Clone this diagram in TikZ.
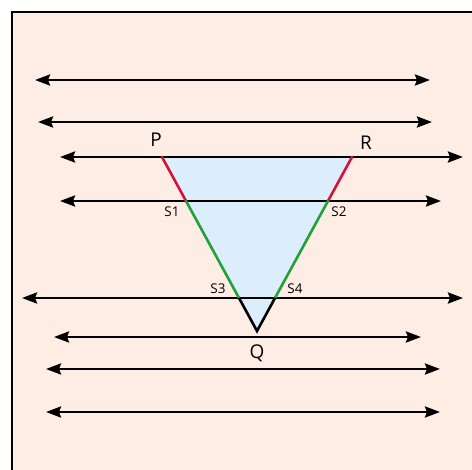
\documentclass[tikz,border=0pt]{standalone}
\usepackage{fontspec}
\setmainfont{Open Sans}
\usetikzlibrary{arrows.meta}
\definecolor{bgpink}{HTML}{FDEDE5}
\definecolor{triblue}{HTML}{DCEEFC}
\definecolor{segred}{HTML}{D2143A}
\definecolor{seggreen}{HTML}{22A03A}
\tikzset{
  dbl/.style={line width=2.6bp, {Stealth[length=15bp,width=11bp,inset=2bp]}-{Stealth[length=15bp,width=11bp,inset=2bp]}},
  big/.style={font=\fontsize{19}{19}\selectfont, inner sep=0},
  small/.style={font=\fontsize{13.5}{14}\selectfont, inner sep=0},
  edge/.style={line width=2.6bp, line cap=round}
}
\begin{document}
\begin{tikzpicture}[x=1bp,y=-1bp]
\useasboundingbox (0,0) rectangle (472,470);
\fill[white] (0,0) rectangle (472,470);
\fill[bgpink] (12,12) rectangle (476,474);
\draw[line width=2.6bp] (12,476) -- (12,12) -- (476,12);
% triangle
\coordinate (P) at (162,157);
\coordinate (R) at (352,157);
\coordinate (Q) at (257,331);
\coordinate (S1) at (186,201);
\coordinate (S2) at (328,201);
\coordinate (S3) at (239,298);
\coordinate (S4) at (275,298);
\fill[triblue] (P) -- (R) -- (Q) -- cycle;
% horizontal lines
\coordinate (a1) at (35,80);  \coordinate (b1) at (430,80);
\coordinate (a2) at (38,122); \coordinate (b2) at (432,122);
\coordinate (a3) at (60,157); \coordinate (b3) at (463,157);
\coordinate (a4) at (60,201); \coordinate (b4) at (441,201);
\coordinate (a5) at (22,298); \coordinate (b5) at (463,298);
\coordinate (a6) at (54,337); \coordinate (b6) at (421,337);
\coordinate (a7) at (46,369); \coordinate (b7) at (440,369);
\coordinate (a8) at (46,412); \coordinate (b8) at (440,412);
\foreach \i in {1,...,8} {\draw[dbl] (a\i) -- (b\i);}
% edges
\draw[edge, segred] (P) -- (S1);
\draw[edge, segred] (R) -- (S2);
\draw[edge, seggreen] (S1) -- (S3);
\draw[edge, seggreen] (S2) -- (S4);
\draw[line width=2.6bp, line join=miter] (S3) -- (Q) -- (S4);
% labels
\node[big] (lP) at (156,140) {P};
\node[big] (lR) at (366,143) {R};
\node[big] (lQ) at (257,353) {Q};
\node[small] (lS1) at (172,212) {S1};
\node[small] (lS2) at (339,212) {S2};
\node[small] (lS3) at (218,289) {S3};
\node[small] (lS4) at (295,289) {S4};
\end{tikzpicture}
\end{document}
